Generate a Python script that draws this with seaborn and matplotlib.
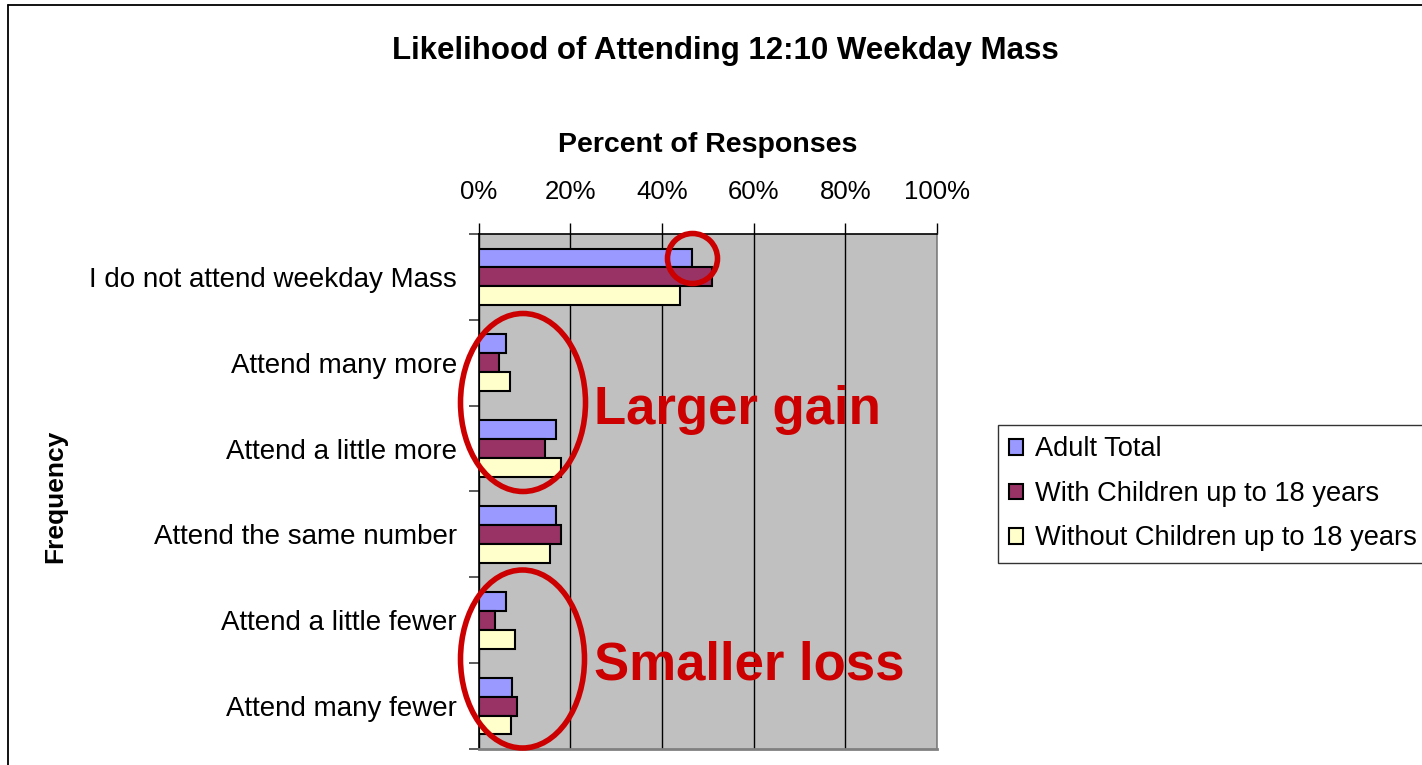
import matplotlib
matplotlib.use("Agg")
import matplotlib.pyplot as plt
import seaborn as sns
import pandas as pd
from matplotlib.patches import Ellipse
from matplotlib.lines import Line2D
from matplotlib.ticker import FixedLocator

categories = ["I do not attend weekday Mass", "Attend many more", "Attend a little more",
              "Attend the same number", "Attend a little fewer", "Attend many fewer"]
series_names = ["Adult Total", "With Children up to 18 years", "Without Children up to 18 years"]
adult_total = [46.6, 6.0, 16.8, 16.8, 6.1, 7.4]
with_children = [50.9, 4.5, 14.4, 18.1, 3.6, 8.4]
without_children = [43.9, 6.9, 18.1, 15.7, 7.9, 7.0]
x_ticks = [0, 20, 40, 60, 80, 100]
x_tick_labels = ["0%", "20%", "40%", "60%", "80%", "100%"]
colors = ["#9999FF", "#993366", "#FFFFCC"]

rows = []
for name, vals in zip(series_names, [adult_total, with_children, without_children]):
    for c, v in zip(categories, vals):
        rows.append({"category": c, "value": v, "series": name})
df = pd.DataFrame(rows)

sns.set_theme(style="white")
plt.rcParams["font.family"] = ["Liberation Sans", "DejaVu Sans"]
plt.rcParams["text.color"] = "black"
plt.rcParams["axes.labelcolor"] = "black"
plt.rcParams["xtick.color"] = "black"
plt.rcParams["ytick.color"] = "black"

W, H = 1422, 765
fig = plt.figure(figsize=(W / 100, H / 100), dpi=100)
fig.patch.set_facecolor("white")

def fx(px):
    return px / W

def fy(py):
    return 1 - py / H

ax = fig.add_axes([fx(478.5), fy(749), fx(937) - fx(478.5), fy(234) - fy(749)])
ax.set_facecolor("#C0C0C0")

sns.barplot(data=df, y="category", x="value", hue="series", order=categories,
            hue_order=series_names, palette=colors, orient="h", width=0.66,
            edgecolor="black", linewidth=1.5, ax=ax, saturation=1)

ax.set_xlim(0, 100)
ax.set_ylim(5.5, -0.5)
ax.xaxis.tick_top()
ax.xaxis.set_label_position("top")
ax.set_xticks(x_ticks)
ax.set_xticklabels(x_tick_labels, fontsize=18.5)
ax.tick_params(axis="x", which="major", direction="out", length=8, width=1, color="black", pad=13.5)
ax.set_xlabel("Percent of Responses", fontsize=20.5, fontweight="bold", labelpad=20)
ax.set_ylabel("")
ax.set_yticks(range(len(categories)))
ax.set_yticklabels(categories, fontsize=20)
ax.tick_params(axis="y", which="major", length=0, pad=15.5)
for lab in ax.get_yticklabels():
    lab.set_verticalalignment("center_baseline")
ax.yaxis.set_minor_locator(FixedLocator([i - 0.5 for i in range(len(categories) + 1)]))
ax.tick_params(axis="y", which="minor", direction="out", length=7, width=1.2, color="#404040", left=True)
ax.grid(axis="x", color="black", linewidth=1)
ax.set_axisbelow(True)
for side, sp in ax.spines.items():
    sp.set_visible(True)
    sp.set_linewidth(1.2)
ax.spines["left"].set_color("black")
ax.spines["top"].set_color("black")
ax.spines["bottom"].set_color("#808080")
ax.spines["bottom"].set_linewidth(2)
ax.spines["right"].set_color("#808080")

handles, labels = ax.get_legend_handles_labels()
if ax.legend_:
    ax.legend_.remove()
leg = fig.legend(handles, labels, loc="upper left", bbox_to_anchor=(fx(998), fy(425)),
                 bbox_transform=fig.transFigure, fontsize=19.6, frameon=True, fancybox=False,
                 shadow=False, handlelength=0.5, handleheight=0.5, handletextpad=0.45,
                 labelspacing=0.68, borderpad=0.42, borderaxespad=0)
leg.get_frame().set_edgecolor("black")
leg.get_frame().set_linewidth(1)

fig.text(fx(725), fy(51), "Likelihood of Attending 12:10 Weekday Mass", ha="center", va="center",
         fontsize=22.5, fontweight="bold")
fig.text(fx(55), fy(496), "Frequency", ha="center", va="center", rotation=90,
         fontsize=19, fontweight="bold")

red = "#CC0000"
fig.add_artist(Ellipse((fx(523), fy(402.5)), fx(125), 178 / H, transform=fig.transFigure,
                       fill=False, edgecolor=red, linewidth=4))
fig.add_artist(Ellipse((fx(522.5), fy(659)), fx(124), 178 / H, transform=fig.transFigure,
                       fill=False, edgecolor=red, linewidth=4))
fig.add_artist(Ellipse((fx(692.5), fy(258.5)), fx(50), 50 / H, transform=fig.transFigure,
                       fill=False, edgecolor=red, linewidth=4))
fig.text(fx(594), fy(424), "Larger gain", ha="left", va="baseline", fontsize=38,
         fontweight="bold", color=red)
fig.text(fx(594), fy(680), "Smaller loss", ha="left", va="baseline", fontsize=38,
         fontweight="bold", color=red)

fig.add_artist(Line2D([fx(8), fx(8)], [-0.1, fy(5)], transform=fig.transFigure, color="black", linewidth=1.3))
fig.add_artist(Line2D([fx(8), 1.1], [fy(5), fy(5)], transform=fig.transFigure, color="black", linewidth=1.3))

fig.savefig("out.png", dpi=100)
